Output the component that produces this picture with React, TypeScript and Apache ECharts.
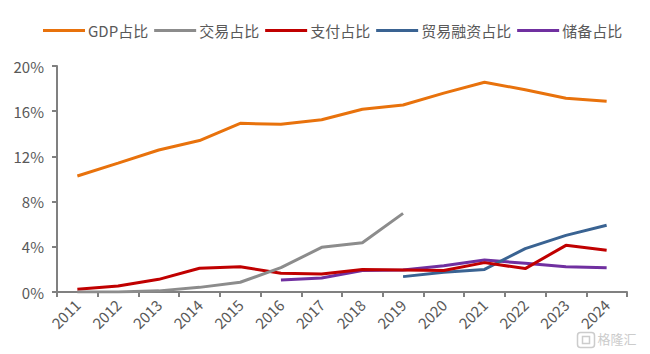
import React, { useEffect, useRef } from "react";
import * as echarts from "echarts";

const years = ["2011","2012","2013","2014","2015","2016","2017","2018","2019","2020","2021","2022","2023","2024"];
const gdpShare = [10.27, 11.4, 12.57, 13.4, 14.93, 14.84, 15.25, 16.17, 16.55, 17.6, 18.56, 17.9, 17.14, 16.87];
const tradeShare = [0.0, 0.0, 0.1, 0.41, 0.86, 2.15, 3.95, 4.36, 6.96, null, null, null, null, null];
const payShare = [0.24, 0.53, 1.12, 2.1, 2.24, 1.65, 1.6, 2.0, 1.95, 1.9, 2.6, 2.07, 4.13, 3.69];
const financeShare = [null, null, null, null, null, null, null, null, 1.36, 1.74, 2.0, 3.84, 5.01, 5.9];
const reserveShare = [null, null, null, null, null, 1.06, 1.24, 1.9, 1.95, 2.33, 2.83, 2.54, 2.24, 2.15];
const yTicks = [0, 4, 8, 12, 16, 20];

const seriesNames = ["GDP占比", "交易占比", "支付占比", "贸易融资占比", "储备占比"];
const seriesColors = ["#E8720C", "#8C8C8C", "#C00000", "#3A6392", "#7030A0"];

export default function App() {
  const ref = useRef<HTMLDivElement>(null);
  useEffect(() => {
    if (!ref.current) return;
    const chart = echarts.init(ref.current, null, { renderer: "svg" });
    const datas = [gdpShare, tradeShare, payShare, financeShare, reserveShare];
    const font = "'Noto Sans CJK SC', 'Microsoft YaHei', sans-serif";
    chart.setOption({
      animation: false,
      backgroundColor: "#ffffff",
      textStyle: { fontFamily: font },
      legend: {
        left: 38,
        top: 18,
        itemWidth: 42,
        itemHeight: 3,
        itemGap: 6,
        icon: "rect",
        textStyle: { color: "#595959", fontSize: 15, fontFamily: font, padding: [0, 0, 0, -2] },
        data: seriesNames,
      },
      grid: { left: 57, right: 23, top: 66, bottom: 62, containLabel: false },
      xAxis: {
        type: "category",
        data: years,
        boundaryGap: true,
        axisLine: { lineStyle: { color: "#808080", width: 2 } },
        axisTick: { show: true, alignWithLabel: false, length: 5, lineStyle: { color: "#808080", width: 2 } },
        axisLabel: { rotate: 45, color: "#595959", fontSize: 15, fontFamily: font, margin: 10, interval: 0 },
      },
      yAxis: {
        type: "value",
        min: yTicks[0],
        max: yTicks[yTicks.length - 1],
        interval: 4,
        splitLine: { show: false },
        axisLine: { show: true, lineStyle: { color: "#808080", width: 2 } },
        axisTick: { show: true, length: 5, lineStyle: { color: "#808080", width: 2 } },
        axisLabel: { color: "#595959", fontSize: 15, fontFamily: font, margin: 13, formatter: (v: number) => v + "%" },
      },
      series: datas.map((d, i) => ({
        name: seriesNames[i],
        type: "line",
        data: d,
        symbol: "none",
        connectNulls: false,
        lineStyle: { color: seriesColors[i], width: 3 },
        itemStyle: { color: seriesColors[i] },
        z: 10 - i,
      })),
      graphic: [
        {
          type: "group",
          left: 575,
          top: 330,
          silent: true,
          children: [
            { type: "rect", shape: { x: 0, y: 0, width: 17, height: 15, r: 3 }, style: { fill: "none", stroke: "#cccccc", lineWidth: 1.5 } },
            { type: "rect", shape: { x: 5, y: 4, width: 7, height: 7 }, style: { fill: "none", stroke: "#cccccc", lineWidth: 1.5 } },
            { type: "text", x: 20, y: -1, style: { text: "格隆汇", fill: "#cccccc", fontSize: 13, fontFamily: font } },
          ],
        },
      ],
    });
    return () => chart.dispose();
  }, []);
  return <div ref={ref} style={{ width: 650, height: 354, position: "absolute", left: 0, top: 0 }} />;
}
